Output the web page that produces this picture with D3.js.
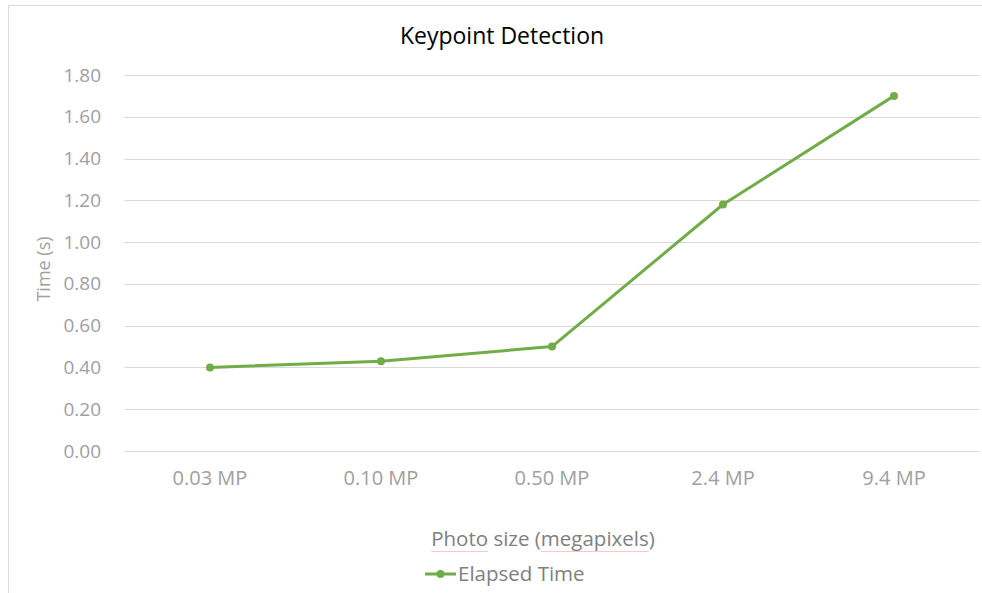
<!DOCTYPE html>
<html>
<head>
<meta charset="utf-8">
<script src="https://cdn.jsdelivr.net/npm/d3@7"></script>
<style>
  html, body { margin: 0; padding: 0; background: #fff; }
  svg { display: block; }
  svg text { font-family: "Open Sans", "Noto Sans", sans-serif; }
</style>
</head>
<body>
<svg id="chart" width="982" height="593"></svg>
<script>
// Keypoint detection timing by photo size
const categories = ["0.03 MP", "0.10 MP", "0.50 MP", "2.4 MP", "9.4 MP"];
const elapsedTime = [0.40, 0.43, 0.50, 1.18, 1.70];
const yTicks = [0, 0.2, 0.4, 0.6, 0.8, 1.0, 1.2, 1.4, 1.6, 1.8];
const seriesName = "Elapsed Time";
const titleText = "Keypoint Detection";
const xTitle = "Photo size (megapixels)";
const yTitle = "Time (s)";

const svg = d3.select("#chart");
const plot = { left: 124.5, right: 979.5, top: 75, bottom: 451 };
const green = "#70AD47";
const tickGrey = "#A0A0A0";
const font = '"Open Sans", "Noto Sans", sans-serif';

// outer chart frame
svg.append("rect")
  .attr("x", 8.5).attr("y", 5.5)
  .attr("width", 1000).attr("height", 1000)
  .attr("fill", "none").attr("stroke", "#D9D9D9").attr("stroke-width", 1);

const x = d3.scaleBand().domain(categories).range([plot.left, plot.right]);
const y = d3.scaleLinear().domain([0, 1.8]).range([plot.bottom, plot.top]);

// horizontal gridlines
svg.append("g").selectAll("line").data(yTicks).join("line")
  .attr("x1", plot.left).attr("x2", plot.right)
  .attr("y1", d => Math.round(y(d)) + 0.5).attr("y2", d => Math.round(y(d)) + 0.5)
  .attr("stroke", "#D9D9D9").attr("stroke-width", 1);

// y axis labels
const yAxis = d3.axisLeft(y).tickValues(yTicks).tickFormat(d3.format(".2f")).tickSize(0).tickPadding(0);
const gy = svg.append("g").attr("transform", `translate(101,0)`).call(yAxis)
  .attr("font-family", font).attr("font-size", 19);
gy.select(".domain").remove();
gy.selectAll("text").attr("fill", tickGrey);

// x axis labels
const xAxis = d3.axisBottom(x).tickSize(0).tickPadding(0);
const gx = svg.append("g").attr("transform", `translate(0,${plot.bottom + 20})`).call(xAxis)
  .attr("font-family", font).attr("font-size", 20);
gx.select(".domain").remove();
gx.selectAll("text").attr("fill", tickGrey);

// series line
const line = d3.line()
  .x((d, i) => x(categories[i]) + x.bandwidth() / 2)
  .y(d => y(d));
svg.append("path").datum(elapsedTime)
  .attr("d", line).attr("fill", "none")
  .attr("stroke", green).attr("stroke-width", 3).attr("stroke-linejoin", "round");

svg.append("g").selectAll("circle").data(elapsedTime).join("circle")
  .attr("cx", (d, i) => x(categories[i]) + x.bandwidth() / 2)
  .attr("cy", d => y(d)).attr("r", 4).attr("fill", green);

// title
svg.append("text").attr("x", 502).attr("y", 44).attr("text-anchor", "middle")
  .attr("fill", "#000").style("font-size", "23px").text(titleText);

// axis titles
svg.append("text")
  .attr("transform", `translate(50,${(plot.top + plot.bottom) / 2 + 6}) rotate(-90)`)
  .attr("text-anchor", "middle").attr("fill", tickGrey).style("font-size", "18px").text(yTitle);

const xt = svg.append("text").attr("x", 543).attr("y", 546).attr("text-anchor", "middle")
  .attr("fill", "#808080").style("font-size", "20.5px").text(xTitle);

// faint proofing underline beneath the flagged words of the axis title
const xtNode = xt.node();
const xtStart = 543 - xtNode.getComputedTextLength() / 2;
["Photo", "megapixels"].forEach(word => {
  const idx = xTitle.indexOf(word);
  const x0 = xtStart + (idx > 0 ? xtNode.getSubStringLength(0, idx) : 0);
  const w = xtNode.getSubStringLength(idx, word.length);
  svg.append("line").attr("x1", x0).attr("x2", x0 + w)
    .attr("y1", 551.5).attr("y2", 551.5)
    .attr("stroke", "#F7CACA").attr("stroke-width", 1);
});

// legend
const lg = svg.append("g").attr("transform", "translate(425,574)");
lg.append("line").attr("x1", 0).attr("x2", 31).attr("y1", 0).attr("y2", 0)
  .attr("stroke", green).attr("stroke-width", 3);
lg.append("circle").attr("cx", 15.5).attr("cy", 0).attr("r", 4).attr("fill", green);
lg.append("text").attr("x", 33).attr("y", 7).attr("fill", "#808080")
  .style("font-size", "20.5px").text(seriesName);
</script>
</body>
</html>
